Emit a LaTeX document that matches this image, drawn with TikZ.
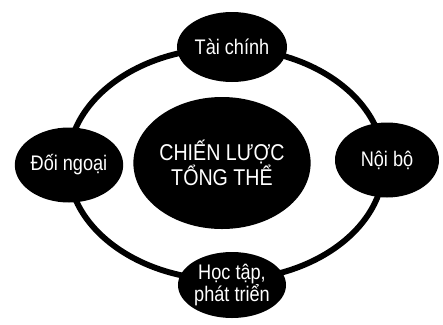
\documentclass[tikz,border=0pt]{standalone}
\usepackage{fontspec}
\setmainfont{Liberation Sans}[FakeStretch=0.86]
\usetikzlibrary{shapes.geometric}

\begin{document}
\begin{tikzpicture}[x=0.03cm, y=-0.03cm]
            \tikzstyle{blob} = [ellipse, fill=black, text=white, inner sep=0pt, align=center, font=\fontsize{18}{19}\selectfont]
            \tikzstyle{ring} = [line width=5pt, black]

            \useasboundingbox (0,0) rectangle (443,324);

            \coordinate (ringc) at (226,164);
            \draw [ring] (ringc) ellipse [x radius=4.74cm, y radius=3.48cm];

            \node [blob, minimum width=4.8cm, minimum height=3.96cm, font=\fontsize{19.5}{20}\selectfont] (core) at (222,163) {CHIẾN LƯỢC\\TỔNG THỂ};
            \node [blob, minimum width=3.3cm, minimum height=2.1cm] (finance) at (232,47) {Tài chính};
            \node [blob, minimum width=3.08cm, minimum height=2.25cm] (outward) at (69,165) {Đối ngoại};
            \node [blob, minimum width=3.12cm, minimum height=2.25cm] (inward) at (387,160) {Nội bộ};
            \node [blob, minimum width=3.24cm, minimum height=1.98cm] (learning) at (232,285) {Học tập,\\phát triển};
\end{tikzpicture}
\end{document}
